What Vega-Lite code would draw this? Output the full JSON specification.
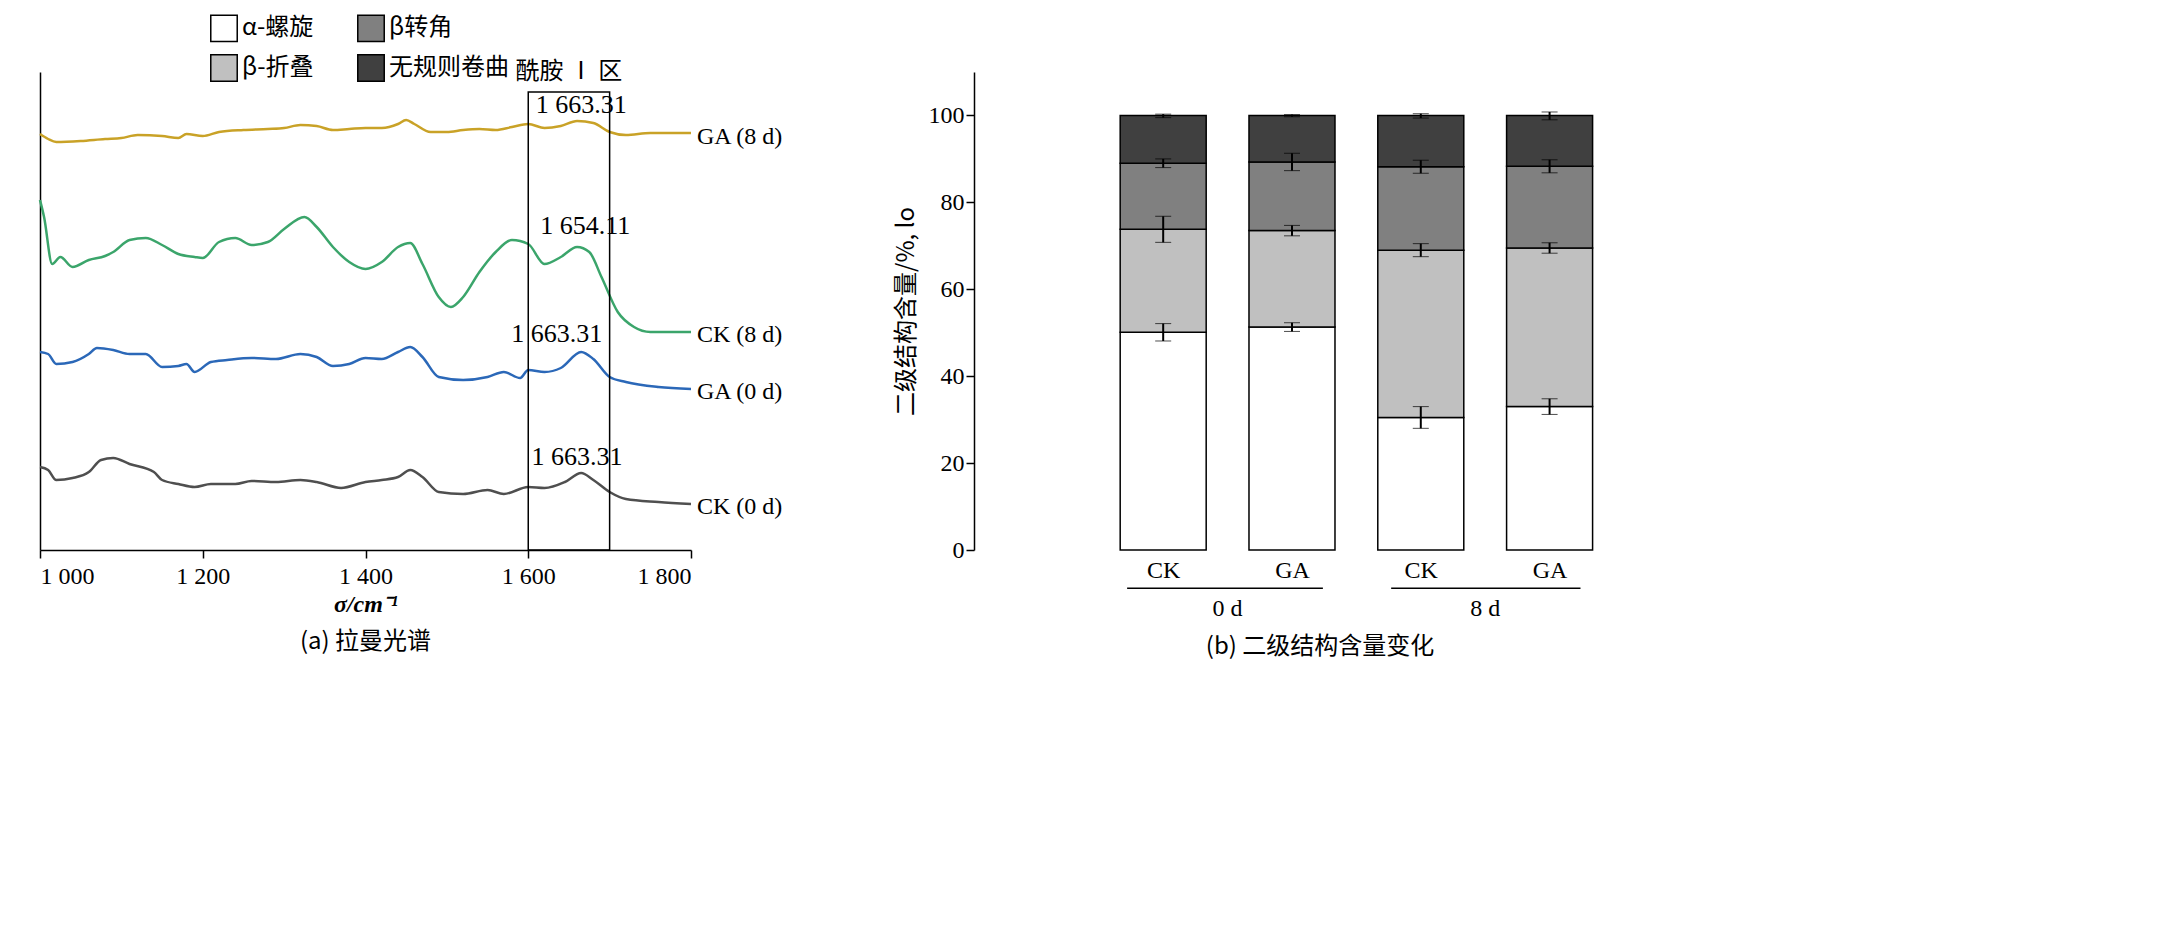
{
  "$schema": "https://vega.github.io/schema/vega-lite/v6.json",
  "padding": {"left": 35, "top": 14, "right": 5, "bottom": 5},
  "background": "white",
  "spacing": 110,
  "config": {
    "view": {"stroke": null},
    "font": "Liberation Serif",
    "axis": {"grid": false, "labelFont": "Liberation Serif", "titleFont": "Liberation Serif", "labelFontSize": 24, "titleFontSize": 24, "labelColor": "black", "titleColor": "black", "domainColor": "black", "tickColor": "black", "domainWidth": 1.5, "tickWidth": 1.5},
    "title": {"font": "Noto Sans CJK SC", "fontSize": 24, "fontWeight": "normal", "color": "black", "orient": "bottom", "offset": 14}
  },
  "datasets": {
    "spec": [
      {"s":"GA8","x":1000,"y":416},{"s":"GA8","x":1010,"y":411},{"s":"GA8","x":1020,"y":408},{"s":"GA8","x":1050,"y":409},{"s":"GA8","x":1080,"y":411},{"s":"GA8","x":1100,"y":412},{"s":"GA8","x":1120,"y":415},{"s":"GA8","x":1150,"y":414},{"s":"GA8","x":1170,"y":412},{"s":"GA8","x":1180,"y":416},{"s":"GA8","x":1200,"y":414},{"s":"GA8","x":1220,"y":418},{"s":"GA8","x":1250,"y":420},{"s":"GA8","x":1280,"y":421},{"s":"GA8","x":1300,"y":422},{"s":"GA8","x":1320,"y":425},{"s":"GA8","x":1340,"y":424},{"s":"GA8","x":1360,"y":420},{"s":"GA8","x":1380,"y":421},{"s":"GA8","x":1400,"y":422},{"s":"GA8","x":1420,"y":422},{"s":"GA8","x":1440,"y":426},{"s":"GA8","x":1450,"y":430},{"s":"GA8","x":1460,"y":426},{"s":"GA8","x":1480,"y":418},{"s":"GA8","x":1500,"y":418},{"s":"GA8","x":1520,"y":420},{"s":"GA8","x":1540,"y":421},{"s":"GA8","x":1560,"y":420},{"s":"GA8","x":1580,"y":423},{"s":"GA8","x":1600,"y":426},{"s":"GA8","x":1620,"y":422},{"s":"GA8","x":1640,"y":424},{"s":"GA8","x":1660,"y":429},{"s":"GA8","x":1680,"y":427},{"s":"GA8","x":1700,"y":418},{"s":"GA8","x":1720,"y":415},{"s":"GA8","x":1750,"y":417},{"s":"GA8","x":1800,"y":417},
      {"s":"CK8","x":1000,"y":350},{"s":"CK8","x":1005,"y":333},{"s":"CK8","x":1015,"y":286},{"s":"CK8","x":1025,"y":293},{"s":"CK8","x":1040,"y":283},{"s":"CK8","x":1060,"y":290},{"s":"CK8","x":1080,"y":294},{"s":"CK8","x":1090,"y":298},{"s":"CK8","x":1110,"y":310},{"s":"CK8","x":1130,"y":312},{"s":"CK8","x":1150,"y":305},{"s":"CK8","x":1170,"y":296},{"s":"CK8","x":1190,"y":293},{"s":"CK8","x":1200,"y":292},{"s":"CK8","x":1220,"y":308},{"s":"CK8","x":1240,"y":312},{"s":"CK8","x":1260,"y":305},{"s":"CK8","x":1280,"y":308},{"s":"CK8","x":1300,"y":321},{"s":"CK8","x":1325,"y":333},{"s":"CK8","x":1340,"y":323},{"s":"CK8","x":1360,"y":303},{"s":"CK8","x":1380,"y":288},{"s":"CK8","x":1400,"y":281},{"s":"CK8","x":1420,"y":288},{"s":"CK8","x":1440,"y":303},{"s":"CK8","x":1455,"y":307},{"s":"CK8","x":1470,"y":286},{"s":"CK8","x":1490,"y":253},{"s":"CK8","x":1505,"y":243},{"s":"CK8","x":1520,"y":253},{"s":"CK8","x":1540,"y":278},{"s":"CK8","x":1560,"y":298},{"s":"CK8","x":1580,"y":310},{"s":"CK8","x":1600,"y":306},{"s":"CK8","x":1620,"y":286},{"s":"CK8","x":1640,"y":293},{"s":"CK8","x":1660,"y":303},{"s":"CK8","x":1675,"y":298},{"s":"CK8","x":1690,"y":273},{"s":"CK8","x":1710,"y":238},{"s":"CK8","x":1730,"y":223},{"s":"CK8","x":1750,"y":218},{"s":"CK8","x":1800,"y":218},
      {"s":"GA0","x":1000,"y":198},{"s":"GA0","x":1010,"y":196},{"s":"GA0","x":1020,"y":186},{"s":"GA0","x":1040,"y":188},{"s":"GA0","x":1060,"y":196},{"s":"GA0","x":1070,"y":202},{"s":"GA0","x":1090,"y":200},{"s":"GA0","x":1110,"y":196},{"s":"GA0","x":1130,"y":196},{"s":"GA0","x":1150,"y":183},{"s":"GA0","x":1170,"y":184},{"s":"GA0","x":1180,"y":186},{"s":"GA0","x":1190,"y":178},{"s":"GA0","x":1210,"y":188},{"s":"GA0","x":1230,"y":190},{"s":"GA0","x":1260,"y":192},{"s":"GA0","x":1290,"y":191},{"s":"GA0","x":1320,"y":196},{"s":"GA0","x":1340,"y":193},{"s":"GA0","x":1360,"y":184},{"s":"GA0","x":1380,"y":186},{"s":"GA0","x":1400,"y":192},{"s":"GA0","x":1420,"y":191},{"s":"GA0","x":1440,"y":198},{"s":"GA0","x":1455,"y":203},{"s":"GA0","x":1470,"y":193},{"s":"GA0","x":1490,"y":173},{"s":"GA0","x":1520,"y":170},{"s":"GA0","x":1550,"y":173},{"s":"GA0","x":1570,"y":178},{"s":"GA0","x":1590,"y":172},{"s":"GA0","x":1600,"y":180},{"s":"GA0","x":1620,"y":178},{"s":"GA0","x":1640,"y":182},{"s":"GA0","x":1665,"y":198},{"s":"GA0","x":1680,"y":191},{"s":"GA0","x":1700,"y":173},{"s":"GA0","x":1720,"y":168},{"s":"GA0","x":1760,"y":163},{"s":"GA0","x":1800,"y":161},
      {"s":"CK0","x":1000,"y":83},{"s":"CK0","x":1010,"y":80},{"s":"CK0","x":1020,"y":70},{"s":"CK0","x":1040,"y":72},{"s":"CK0","x":1060,"y":78},{"s":"CK0","x":1075,"y":90},{"s":"CK0","x":1090,"y":92},{"s":"CK0","x":1110,"y":86},{"s":"CK0","x":1140,"y":78},{"s":"CK0","x":1150,"y":70},{"s":"CK0","x":1170,"y":66},{"s":"CK0","x":1190,"y":63},{"s":"CK0","x":1210,"y":66},{"s":"CK0","x":1240,"y":66},{"s":"CK0","x":1260,"y":69},{"s":"CK0","x":1290,"y":68},{"s":"CK0","x":1320,"y":70},{"s":"CK0","x":1340,"y":68},{"s":"CK0","x":1370,"y":62},{"s":"CK0","x":1400,"y":68},{"s":"CK0","x":1420,"y":70},{"s":"CK0","x":1440,"y":73},{"s":"CK0","x":1455,"y":80},{"s":"CK0","x":1470,"y":73},{"s":"CK0","x":1490,"y":58},{"s":"CK0","x":1520,"y":56},{"s":"CK0","x":1550,"y":60},{"s":"CK0","x":1570,"y":56},{"s":"CK0","x":1600,"y":63},{"s":"CK0","x":1620,"y":62},{"s":"CK0","x":1645,"y":68},{"s":"CK0","x":1665,"y":77},{"s":"CK0","x":1680,"y":70},{"s":"CK0","x":1700,"y":58},{"s":"CK0","x":1720,"y":51},{"s":"CK0","x":1760,"y":48},{"s":"CK0","x":1800,"y":46}
    ],
    "peaks": [
      {"x":1665,"y":445,"t":"1 663.31"},{"x":1670,"y":324,"t":"1 654.11"},{"x":1635,"y":216,"t":"1 663.31"},{"x":1660,"y":93,"t":"1 663.31"}
    ],
    "names": [
      {"x":1800,"y":413,"t":"GA (8 d)"},{"x":1800,"y":215,"t":"CK (8 d)"},{"x":1800,"y":158,"t":"GA (0 d)"},{"x":1800,"y":43,"t":"CK (0 d)"}
    ],
    "bars": [
      {"g":1,"k":"α-螺旋","o":1,"v":50.1},{"g":1,"k":"β-折叠","o":2,"v":23.7},{"g":1,"k":"β转角","o":3,"v":15.2},{"g":1,"k":"无规则卷曲","o":4,"v":11.0},
      {"g":2,"k":"α-螺旋","o":1,"v":51.3},{"g":2,"k":"β-折叠","o":2,"v":22.2},{"g":2,"k":"β转角","o":3,"v":15.8},{"g":2,"k":"无规则卷曲","o":4,"v":10.7},
      {"g":3,"k":"α-螺旋","o":1,"v":30.5},{"g":3,"k":"β-折叠","o":2,"v":38.5},{"g":3,"k":"β转角","o":3,"v":19.2},{"g":3,"k":"无规则卷曲","o":4,"v":11.8},
      {"g":4,"k":"α-螺旋","o":1,"v":33.0},{"g":4,"k":"β-折叠","o":2,"v":36.5},{"g":4,"k":"β转角","o":3,"v":18.8},{"g":4,"k":"无规则卷曲","o":4,"v":11.7}
    ],
    "errs": [
      {"g":1,"lo":48.1,"hi":52.1},{"g":1,"lo":70.8,"hi":76.8},{"g":1,"lo":88.0,"hi":90.0},{"g":1,"lo":99.5,"hi":100.3},
      {"g":2,"lo":50.3,"hi":52.3},{"g":2,"lo":72.3,"hi":74.7},{"g":2,"lo":87.3,"hi":91.3},{"g":2,"lo":99.7,"hi":100.2},
      {"g":3,"lo":28.0,"hi":33.0},{"g":3,"lo":67.5,"hi":70.5},{"g":3,"lo":86.7,"hi":89.7},{"g":3,"lo":99.4,"hi":100.4},
      {"g":4,"lo":31.2,"hi":34.8},{"g":4,"lo":68.3,"hi":70.7},{"g":4,"lo":86.8,"hi":89.8},{"g":4,"lo":99.0,"hi":100.8}
    ],
    "groups": [{"a":0.72,"b":2.24,"m":1.5,"t":"0 d"},{"a":2.77,"b":4.24,"m":3.5,"t":"8 d"}]
  },
  "hconcat": [
    {
      "width": 651, "height": 478,
      "title": "(a) 拉曼光谱",
      "encoding": {
        "x": {"type": "quantitative", "scale": {"domain": [1000, 1800], "nice": false},
              "axis": {"values": [1000, 1200, 1400, 1600, 1800], "labelExpr": "replace(format(datum.value, 'd'), /^(\\d)(\\d{3})$/, '$1 $2')", "title": "σ/cm⁻¹", "titleFontStyle": "italic", "tickSize": 8, "labelPadding": 6}},
        "y": {"type": "quantitative", "scale": {"domain": [0, 478], "nice": false},
              "axis": {"ticks": false, "labels": false, "title": null}}
      },
      "layer": [
        {"data": {"name": "spec"}, "mark": {"type": "line", "strokeWidth": 2.5, "interpolate": "monotone"},
         "encoding": {"x": {"field": "x"}, "y": {"field": "y"},
           "color": {"field": "s", "type": "nominal", "legend": null, "scale": {"domain": ["GA8", "CK8", "GA0", "CK0"], "range": ["#c9a227", "#3ba56b", "#2b68b8", "#4f4f4f"]}}}},
        {"data": {"values": [{"a": 1600, "b": 1700}]}, "mark": {"type": "rect", "fill": null, "stroke": "black", "strokeWidth": 1.5, "clip": false},
         "encoding": {"x": {"field": "a"}, "x2": {"field": "b"}, "y": {"datum": 0}, "y2": {"datum": 458}}},
        {"data": {"values": [{"x": 1650, "t": "酰胺 Ⅰ 区"}]}, "mark": {"type": "text", "font": "Noto Sans CJK SC", "fontSize": 24, "baseline": "middle", "clip": false},
         "encoding": {"x": {"field": "x"}, "y": {"datum": 478}, "text": {"field": "t"}}},
        {"data": {"name": "peaks"}, "mark": {"type": "text", "fontSize": 26, "baseline": "middle", "clip": false},
         "encoding": {"x": {"field": "x"}, "y": {"field": "y"}, "text": {"field": "t"}}},
        {"data": {"name": "names"}, "mark": {"type": "text", "fontSize": 24, "align": "left", "dx": 6, "baseline": "middle", "clip": false},
         "encoding": {"x": {"field": "x"}, "y": {"field": "y"}, "text": {"field": "t"}}}
      ]
    },
    {
      "width": 692, "height": 478,
      "title": "(b) 二级结构含量变化",
      "encoding": {
        "x": {"type": "quantitative", "scale": {"domain": [-0.43, 4.865], "nice": false},
              "axis": {"values": [1, 2, 3, 4], "labelExpr": "datum.value % 2 == 1 ? 'CK' : 'GA'", "title": null, "ticks": false, "domain": false, "labelPadding": 8}}
      },
      "layer": [
        {"data": {"name": "bars"}, "mark": {"type": "bar", "size": 86, "stroke": "black", "strokeWidth": 1.5},
         "encoding": {
           "x": {"field": "g"},
           "y": {"field": "v", "type": "quantitative", "stack": "zero", "scale": {"domain": [0, 110], "nice": false},
                 "axis": {"values": [0, 20, 40, 60, 80, 100], "title": "二级结构含量/%", "titleFont": "Noto Sans CJK SC", "titleFontWeight": "normal", "titlePadding": 10, "tickSize": 8}},
           "order": {"field": "o"},
           "fill": {"field": "k", "type": "nominal", "sort": ["α-螺旋", "β-折叠", "β转角", "无规则卷曲"],
             "scale": {"domain": ["α-螺旋", "β-折叠", "β转角", "无规则卷曲"], "range": ["#ffffff", "#c0c0c0", "#808080", "#404040"]},
             "legend": {"title": null, "orient": "none", "legendX": 170, "legendY": -58, "columns": 2, "columnPadding": 40, "rowPadding": 6, "symbolType": "square", "symbolSize": 700, "symbolStrokeColor": "black", "symbolStrokeWidth": 1.5, "labelFont": "Noto Sans CJK SC", "labelFontSize": 24, "labelColor": "black", "labelLimit": 300}}
         }},
        {"data": {"name": "errs"}, "mark": {"type": "errorbar", "ticks": {"size": 16, "color": "black", "strokeWidth": 2}, "rule": {"color": "black", "strokeWidth": 2}},
         "encoding": {"x": {"field": "g", "type": "quantitative"}, "y": {"field": "lo", "type": "quantitative"}, "y2": {"field": "hi"}}},
        {"data": {"name": "groups"}, "mark": {"type": "rule", "color": "black", "strokeWidth": 1.5, "clip": false},
         "encoding": {"x": {"field": "a", "type": "quantitative"}, "x2": {"field": "b"}, "y": {"datum": -8.8}}},
        {"data": {"name": "groups"}, "mark": {"type": "text", "fontSize": 24, "baseline": "middle", "clip": false},
         "encoding": {"x": {"field": "m", "type": "quantitative"}, "y": {"datum": -13.5}, "text": {"field": "t"}}}
      ]
    }
  ]
}
